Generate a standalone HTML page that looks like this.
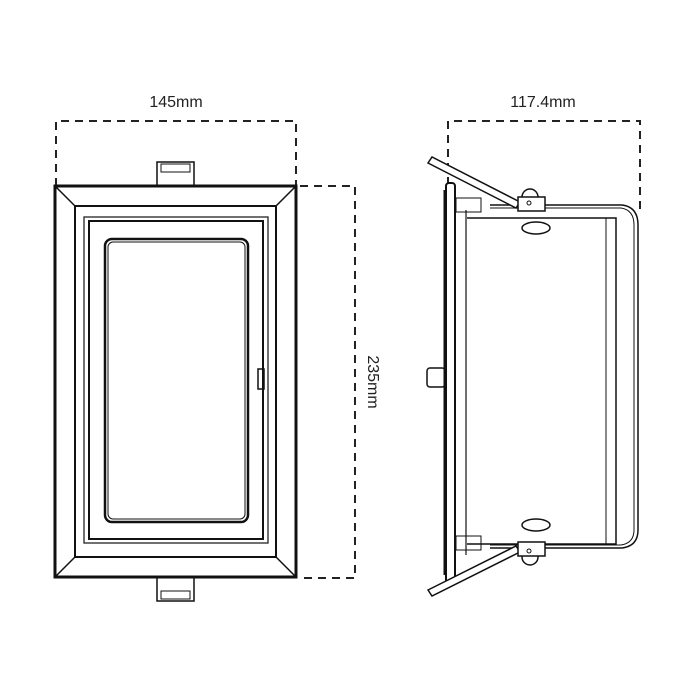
<!DOCTYPE html>
<html><head><style>html,body{margin:0;padding:0;background:#fff}svg{display:block}</style></head>
<body>
<svg width="700" height="700" viewBox="0 0 700 700" xmlns="http://www.w3.org/2000/svg" font-family="Liberation Sans, sans-serif">
<g fill="none" stroke="#222" stroke-width="2" stroke-dasharray="8,6">
<path d="M56 186 V121 H296 V186"/>
<path d="M300 186 H355 V578 H300"/>
<path d="M448 185 V121 H640 V215"/>
</g>
<g font-size="16" fill="#222">
<text x="176" y="107" text-anchor="middle">145mm</text>
<text x="543" y="107" text-anchor="middle">117.4mm</text>
<text transform="translate(368,382) rotate(90)" text-anchor="middle">235mm</text>
</g>
<!-- left view -->
<g fill="none" stroke="#111">
<rect x="157" y="162" width="37" height="24" stroke-width="1.5" fill="#fff"/>
<rect x="161" y="164" width="29" height="8" stroke-width="1"/>
<rect x="157" y="577" width="37" height="24" stroke-width="1.5" fill="#fff"/>
<rect x="161" y="591" width="29" height="8" stroke-width="1"/>
<rect x="55" y="186" width="241" height="391" stroke-width="3" fill="#fff"/>
<rect x="75" y="206" width="201" height="351" stroke-width="2"/>
<path d="M55 186 L75 206 M296 186 L276 206 M55 577 L75 557 M296 577 L276 557" stroke-width="1.5"/>
<rect x="84" y="217" width="184" height="326" stroke-width="1.2"/>
<rect x="89" y="221" width="174" height="318" stroke-width="2"/>
<rect x="105" y="239" width="143" height="283" rx="7" stroke-width="2.5"/>
<rect x="108" y="242" width="137" height="277" rx="5" stroke-width="1"/>
<rect x="258" y="369" width="6" height="20" stroke-width="1.5"/>
</g>
<!-- right view -->
<g fill="none" stroke="#111">
<rect x="427" y="368" width="18" height="19" rx="3" stroke-width="1.5"/>
<rect x="446" y="183" width="9" height="400" rx="3" stroke-width="2" fill="#fff"/>
<line x1="445" y1="190" x2="445" y2="575" stroke-width="3"/>
<line x1="455" y1="195" x2="455" y2="570" stroke-width="1.5"/>
<line x1="466" y1="210" x2="466" y2="555" stroke-width="1.2"/>
<path d="M467 218 H616 V544 H467" stroke-width="1.5"/>
<line x1="606" y1="218" x2="606" y2="544" stroke-width="1"/>
<path d="M490 205 H622 Q638 207 638 225 V530 Q638 546 622 548 H490" stroke-width="1.5"/>
<path d="M490 208 H621 Q634 210 634 225 V530 Q634 543 621 545 H490" stroke-width="1"/>
<ellipse cx="536" cy="228" rx="14" ry="6" stroke-width="1.5"/>
<ellipse cx="536" cy="525" rx="14" ry="6" stroke-width="1.5"/>
<rect x="456" y="198" width="25" height="14" stroke-width="1"/>
<rect x="456" y="536" width="25" height="14" stroke-width="1"/>
<path d="M428 163 L432 157 L520 202 L516 208 Z" stroke-width="1.5" fill="#fff"/>
<path d="M428 590 L432 596 L520 552 L516 546 Z" stroke-width="1.5" fill="#fff"/>
<circle cx="530" cy="197" r="8" stroke-width="1.5" fill="#fff"/>
<circle cx="530" cy="557" r="8" stroke-width="1.5" fill="#fff"/>
<rect x="518" y="197" width="27" height="14" stroke-width="1.5" fill="#fff"/>
<rect x="518" y="542" width="27" height="14" stroke-width="1.5" fill="#fff"/>
<circle cx="529" cy="203" r="2" stroke-width="1"/>
<circle cx="529" cy="551" r="2" stroke-width="1"/>
</g>
</svg>
</body></html>
